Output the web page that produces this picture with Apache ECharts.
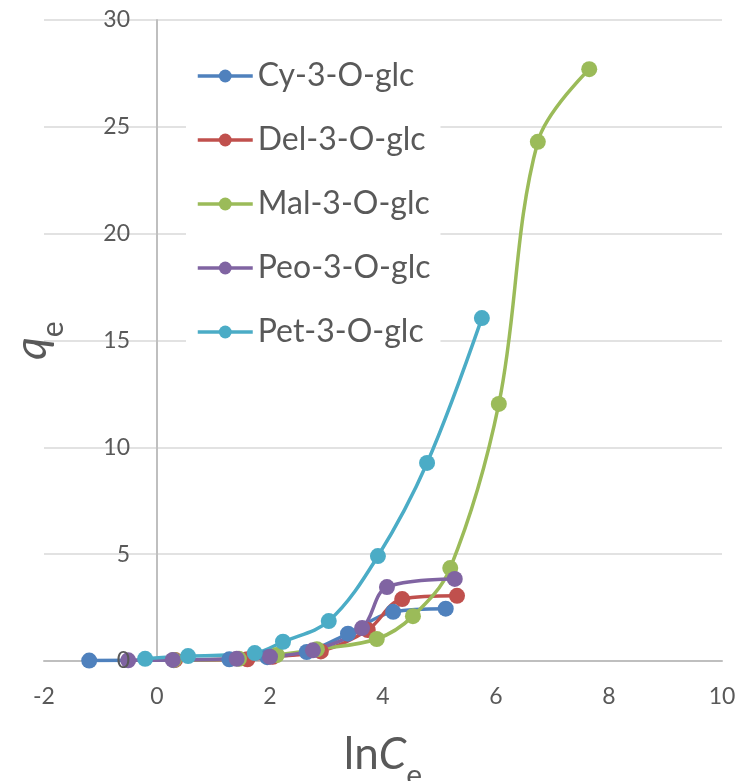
<!DOCTYPE html>
<html>
<head>
<meta charset="utf-8">
<script src="https://cdn.jsdelivr.net/npm/echarts@6/dist/echarts.min.js"></script>
<style>
  html, body { margin: 0; padding: 0; background: #fff; }
  #chart { width: 741px; height: 781px; }
</style>
</head>
<body>
<div id="chart"></div>
<script>
  // series values, [lnCe, qe]
  const seriesNames = ['Cy-3-O-glc', 'Del-3-O-glc', 'Mal-3-O-glc', 'Peo-3-O-glc', 'Pet-3-O-glc'];
  const cyData = [[-1.2, 0.02], [0.3, 0.04], [1.28, 0.08], [1.95, 0.18], [2.65, 0.42], [3.38, 1.28], [4.18, 2.3], [5.11, 2.45]];
  const delData = [[0.32, 0.05], [1.6, 0.08], [2.05, 0.2], [2.9, 0.45], [3.73, 1.45], [4.34, 2.9], [5.31, 3.05]];
  const malData = [[0.3, 0.05], [1.45, 0.1], [2.12, 0.28], [2.83, 0.55], [3.89, 1.03], [4.53, 2.1], [5.19, 4.35], [6.05, 12.03], [6.74, 24.3], [7.65, 27.7]];
  const peoData = [[-0.51, 0.03], [0.28, 0.05], [1.41, 0.1], [2.0, 0.2], [2.76, 0.5], [3.63, 1.54], [4.07, 3.46], [5.27, 3.84]];
  const petData = [[-0.21, 0.1], [0.55, 0.23], [1.73, 0.37], [2.23, 0.9], [3.04, 1.87], [3.91, 4.91], [4.78, 9.27], [5.75, 16.05]];
  const colors = ['#4f81bd', '#c0504d', '#9bbb59', '#8064a2', '#4bacc6'];

  const font = 'Lato, "Noto Sans", sans-serif';
  const chart = echarts.init(document.getElementById('chart'));

  const allData = [cyData, delData, malData, peoData, petData];
  const series = allData.map((d, i) => ({
    name: seriesNames[i],
    type: 'line',
    data: d,
    smooth: 0.35,
    symbol: 'circle',
    symbolSize: 16,
    color: colors[i],
    lineStyle: { width: 3.5, color: colors[i] },
    itemStyle: { color: colors[i] },
    animation: false,
  }));

  chart.setOption({
    textStyle: { fontFamily: font },
    grid: { left: 44, right: 19, top: 20, bottom: 120, containLabel: false, outerBoundsMode: 'none' },
    legend: {
      orient: 'vertical',
      left: 186,
      top: 50,
      padding: [8, 10],
      backgroundColor: '#fff',
      itemWidth: 55,
      itemHeight: 16,
      itemGap: 28,
      lineStyle: { width: 3.5 },
      textStyle: { fontSize: 32, lineHeight: 36, color: '#595959', fontFamily: font },
      data: seriesNames,
    },
    xAxis: {
      type: 'value',
      min: -2,
      max: 10,
      interval: 2,
      splitLine: { show: false },
      axisTick: { show: false },
      axisLine: { show: true, onZero: false, lineStyle: { color: '#bfbfbf', width: 2 } },
      axisLabel: { fontSize: 23, color: '#595959', margin: 24, fontFamily: font },
      name: '{n|ln}{c|C}{s|e}',
      nameLocation: 'middle',
      nameGap: 72,
      nameTextStyle: {
        rich: {
          n: { fontSize: 44, color: '#595959', fontFamily: font, lineHeight: 50, verticalAlign: 'top' },
          c: { fontSize: 44, color: '#595959', fontFamily: font, fontStyle: 'italic', lineHeight: 50, verticalAlign: 'top' },
          s: { fontSize: 30, color: '#595959', fontFamily: font, lineHeight: 58, verticalAlign: 'bottom' },
        },
      },
    },
    yAxis: [
      {
        type: 'value',
        min: 0,
        max: 30,
        interval: 5,
        axisTick: { show: false },
        axisLine: { show: true, onZero: true, lineStyle: { color: '#bfbfbf', width: 2 } },
        axisLabel: { show: false },
        splitLine: { lineStyle: { color: '#d9d9d9', width: 1.5 } },
        name: '{q|q}{s|e}',
        nameLocation: 'middle',
        nameGap: -24,
        nameRotate: 90,
        nameTextStyle: {
          rich: {
            q: { fontSize: 44, color: '#595959', fontFamily: font, fontStyle: 'italic', lineHeight: 50, verticalAlign: 'top' },
            s: { fontSize: 30, color: '#595959', fontFamily: font, lineHeight: 58, verticalAlign: 'bottom' },
          },
        },
      },
      {
        // tick labels only, drawn above the markers next to the x = 0 crossing
        type: 'value',
        position: 'left',
        min: 0,
        max: 30,
        interval: 5,
        z: 5,
        axisTick: { show: false },
        axisLine: { show: false },
        splitLine: { show: false },
        axisLabel: { fontSize: 23, color: '#595959', margin: -86, fontFamily: font },
      },
    ],
    series: series,
  });
</script>
</body>
</html>
